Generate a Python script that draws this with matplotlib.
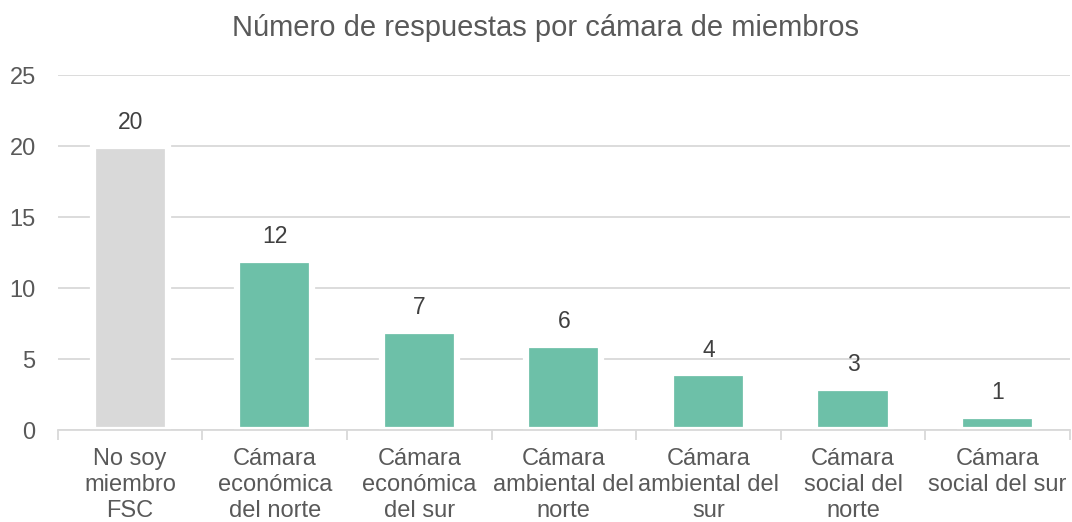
import matplotlib.pyplot as plt
import numpy as np
from matplotlib.ticker import MultipleLocator, FixedLocator

categories = ['No soy\nmiembro\nFSC', 'Cámara\neconómica\ndel norte', 'Cámara\neconómica\ndel sur',
              'Cámara\nambiental del\nnorte', 'Cámara\nambiental del\nsur', 'Cámara\nsocial del\nnorte',
              'Cámara\nsocial del sur']
values = [20, 12, 7, 6, 4, 3, 1]
colors = ['#d9d9d9'] + ['#6dc0a8'] * 6

text_c = '#595959'
grid_c = '#d9d9d9'

plt.rcParams['font.family'] = ['Liberation Sans', 'DejaVu Sans']

fig = plt.figure(figsize=(10.72, 5.22), dpi=100)
ax = fig.add_axes([0.054, 0.176, 0.944, 0.68])

x = np.arange(len(values))
ax.bar(x, values, width=0.52, color=colors, edgecolor='white', linewidth=4.5, zorder=3)

for xi, v in zip(x, values):
    ax.annotate(str(v), (xi, v), xytext=(0, 12), textcoords='offset points',
                ha='center', va='baseline', fontsize=16.5, color='#404040')

ax.set_xlim(-0.5, len(values) - 0.5)
ax.set_ylim(0, 25)
ax.yaxis.set_major_locator(MultipleLocator(5))
ax.grid(axis='y', color=grid_c, lw=1.3, zorder=0)

ax.set_xticks(x)
ax.set_xticklabels(categories, fontsize=17, color=text_c, linespacing=1.23)
ax.xaxis.set_minor_locator(FixedLocator(np.arange(-0.5, len(values), 1.0)))
ax.tick_params(axis='x', which='major', length=0, pad=13)
ax.tick_params(axis='x', which='minor', length=7, color=grid_c, width=1.3)
ax.tick_params(axis='y', length=0, labelsize=17, labelcolor=text_c, pad=16)

for s in ['top', 'right', 'left']:
    ax.spines[s].set_visible(False)
ax.spines['bottom'].set_color(grid_c)
ax.spines['bottom'].set_linewidth(1.3)
ax.spines['bottom'].set_zorder(4)

fig.text(0.509, 0.946, 'Número de respuestas por cámara de miembros', ha='center', va='center',
         fontsize=21, color=text_c)

plt.savefig('out.png', dpi=100)
